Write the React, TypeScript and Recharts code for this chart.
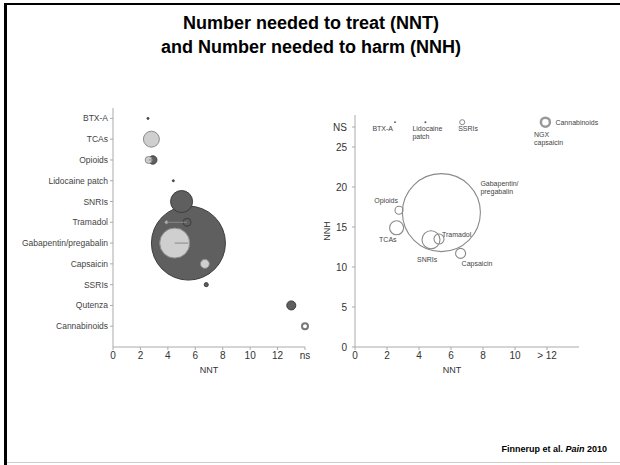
import { Scatter, ScatterChart, XAxis, YAxis } from "recharts"

// Left panel: combined NNT per drug class, bubble area ~ number of patients
const drugs = [
  "BTX-A",
  "TCAs",
  "Opioids",
  "Lidocaine patch",
  "SNRIs",
  "Tramadol",
  "Gabapentin/pregabalin",
  "Capsaicin",
  "SSRIs",
  "Qutenza",
  "Cannabinoids",
]
// dark bubbles (14 = ns)
const nntAll = [2.55, null, 2.9, 4.4, 5.0, 5.4, 5.5, null, 6.8, 13.0, 14]
const sizeAll = [3, 0, 55, 3, 380, 50, 4300, 0, 13, 64, 28]
// light bubbles
const nntSub = [null, 2.8, 2.6, null, null, 3.9, 4.5, 6.7, null, null, null]
const sizeSub = [0, 200, 38, 0, 0, 7, 710, 64, 0, 0, 0]

const leftTicks = [0, 2, 4, 6, 8, 10, 12, 14]
const leftTickLabels = ["0", "2", "4", "6", "8", "10", "12", "ns"]

// Right panel: NNT vs NNH
const harmNames = ["Opioids", "TCAs", "SNRIs", "Tramadol", "Gabapentin/pregabalin", "Capsaicin"]
const harmNnt = [2.75, 2.6, 4.75, 5.25, 5.4, 6.6]
const harmNnh = [17.1, 14.9, 13.4, 13.5, 16.8, 11.7]
const harmSize = [50, 154, 254, 79, 4780, 79]

// not significant NNH row
const nsNames = ["BTX-A", "Lidocaine patch", "SSRIs", "Cannabinoids", "NGX capsaicin"]
const nsNnt = [2.5, 4.4, 6.7, 11.9, 12]
const nsSize = [2, 3, 20, 64, 0]
const nsLevel = 28.1

const rightYTicks = [0, 5, 10, 15, 20, 25, 27.5]
const rightYLabels = ["0", "5", "10", "15", "20", "25", "NS"]
const rightXTicks = [0, 2, 4, 6, 8, 10, 12]
const rightXLabels = ["0", "2", "4", "6", "8", "10", "> 12"]

// label placement for the right panel (pixels relative to bubble centre)
const labelPlacement: Record<string, { dx: number; dy: number; anchor: "start" | "end"; lines: string[] }> = {
  Opioids: { dx: -1, dy: -7, anchor: "end", lines: ["Opioids"] },
  TCAs: { dx: 0, dy: 14, anchor: "end", lines: ["TCAs"] },
  SNRIs: { dx: -14, dy: 22, anchor: "start", lines: ["SNRIs"] },
  Tramadol: { dx: 3, dy: -2, anchor: "start", lines: ["Tramadol"] },
  "Gabapentin/pregabalin": { dx: 39, dy: -27, anchor: "start", lines: ["Gabapentin/", "pregabalin"] },
  Capsaicin: { dx: 1, dy: 13, anchor: "start", lines: ["Capsaicin"] },
  "BTX-A": { dx: -2, dy: 9, anchor: "end", lines: ["BTX-A"] },
  "Lidocaine patch": { dx: -13, dy: 9, anchor: "start", lines: ["Lidocaine", "patch"] },
  SSRIs: { dx: -4, dy: 9, anchor: "start", lines: ["SSRIs"] },
  Cannabinoids: { dx: 10, dy: 3, anchor: "start", lines: ["Cannabinoids"] },
  "NGX capsaicin": { dx: -13, dy: 15, anchor: "start", lines: ["NGX", "capsaicin"] },
}

// big bubbles first so the small ones stay visible on top
const allPoints = drugs
  .map((name, i) => ({ name, row: i, nnt: nntAll[i], size: sizeAll[i] }))
  .filter((p) => p.nnt !== null)
  .sort((a, b) => b.size - a.size)
const subPoints = drugs
  .map((name, i) => ({ name, row: i, nnt: nntSub[i], size: sizeSub[i] }))
  .filter((p) => p.nnt !== null)
// light estimate joined to the dark one on the same row
const links = drugs
  .map((name, i) => ({ name, row: i, from: nntSub[i], to: nntAll[i] }))
  .filter((l) => l.from !== null && l.to !== null)

const harmPoints = harmNames.map((name, i) => ({ name, nnt: harmNnt[i], nnh: harmNnh[i], size: harmSize[i] }))
const nsPoints = nsNames.map((name, i) => ({ name, nnt: nsNnt[i], nnh: nsLevel, size: nsSize[i] }))

const radius = (size: number) => Math.sqrt(size / Math.PI)

const axisColor = "#aaa"
const textColor = "#333"

const DarkBubble = (props: any) => {
  const { cx, cy, payload } = props
  const r = Math.max(radius(payload.size), 1)
  if (payload.nnt >= 14) {
    return <circle cx={cx} cy={cy} r={r} fill="#fff" stroke="#777" strokeWidth={2} />
  }
  return <circle cx={cx} cy={cy} r={r} fill="#5f5f5f" stroke="#3c3c3c" strokeWidth={1} />
}

const LightBubble = (props: any) => {
  const { cx, cy, payload } = props
  const r = Math.max(radius(payload.size), 1)
  return <circle cx={cx} cy={cy} r={r} fill="#cfcfcf" stroke="#8a8a8a" strokeWidth={1} />
}

const NoMark = () => <g />

const PointLabel = ({ cx, cy, name }: { cx: number; cy: number; name: string }) => {
  const p = labelPlacement[name]
  if (!p) return null
  return (
    <text x={cx + p.dx} y={cy + p.dy} textAnchor={p.anchor} fontSize={7} fill="#444">
      {p.lines.map((line, k) => (
        <tspan key={k} x={cx + p.dx} dy={k === 0 ? 0 : 8}>
          {line}
        </tspan>
      ))}
    </text>
  )
}

const HarmBubble = (props: any) => {
  const { cx, cy, payload } = props
  const r = radius(payload.size)
  return (
    <g>
      <circle cx={cx} cy={cy} r={r} fill="none" stroke="#8a8a8a" strokeWidth={1.1} />
      <PointLabel cx={cx} cy={cy} name={payload.name} />
    </g>
  )
}

const NsBubble = (props: any) => {
  const { cx, cy, payload } = props
  const r = radius(payload.size)
  let mark = null
  if (payload.size > 0 && payload.size < 5) mark = <circle cx={cx} cy={cy} r={Math.max(r, 0.9)} fill="#555" />
  else if (payload.size >= 40) mark = <circle cx={cx} cy={cy} r={r} fill="none" stroke="#999" strokeWidth={2.5} />
  else if (payload.size > 0) mark = <circle cx={cx} cy={cy} r={r} fill="none" stroke="#888" strokeWidth={1} />
  return (
    <g>
      {mark}
      <PointLabel cx={cx} cy={cy} name={payload.name} />
    </g>
  )
}

function LeftChart() {
  return (
    <ScatterChart width={320} height={380} margin={{ top: 108, right: 15, bottom: 13, left: 3 }}>
      <XAxis
        type="number"
        dataKey="nnt"
        domain={[0, 14]}
        ticks={leftTicks}
        tickFormatter={(v: number) => leftTickLabels[leftTicks.indexOf(v)]}
        interval={0}
        height={20}
        stroke={axisColor}
        tickSize={3}
        tick={{ fontSize: 10, fill: textColor }}
        label={{ value: "NNT", position: "bottom", offset: 0, fontSize: 9, fill: textColor }}
      />
      <YAxis
        type="number"
        dataKey="row"
        domain={[-0.5, 11]}
        reversed
        ticks={drugs.map((_, i) => i)}
        tickFormatter={(v: number) => drugs[v] ?? ""}
        interval={0}
        width={110}
        stroke={axisColor}
        tickSize={3}
        tick={{ fontSize: 8.5, fill: "#444" }}
      />
      <Scatter data={allPoints} shape={DarkBubble} isAnimationActive={false} />
      <Scatter data={subPoints} shape={LightBubble} isAnimationActive={false} />
      {links.map((l) => (
        <Scatter
          key={l.name}
          data={[
            { nnt: l.from, row: l.row },
            { nnt: l.to, row: l.row },
          ]}
          line={{ stroke: "#888", strokeWidth: 1 }}
          shape={NoMark}
          isAnimationActive={false}
        />
      ))}
    </ScatterChart>
  )
}

function RightChart() {
  return (
    <ScatterChart width={310} height={380} margin={{ top: 115, right: 41, bottom: 13, left: 15 }}>
      <XAxis
        type="number"
        dataKey="nnt"
        domain={[0, 14]}
        ticks={rightXTicks}
        tickFormatter={(v: number) => rightXLabels[rightXTicks.indexOf(v)]}
        interval={0}
        height={20}
        stroke={axisColor}
        tickSize={3}
        tick={{ fontSize: 10, fill: textColor }}
        label={{ value: "NNT", position: "bottom", offset: 0, dx: -15, fontSize: 9, fill: textColor }}
      />
      <YAxis
        type="number"
        dataKey="nnh"
        domain={[0, 29]}
        ticks={rightYTicks}
        tickFormatter={(v: number) => rightYLabels[rightYTicks.indexOf(v)]}
        interval={0}
        width={30}
        stroke={axisColor}
        tickSize={3}
        tickMargin={5}
        tick={{ fontSize: 10, fill: textColor }}
        label={{
          value: "NNH",
          angle: -90,
          position: "insideLeft",
          offset: 2,
          fontSize: 9,
          fill: textColor,
          style: { textAnchor: "middle" },
        }}
      />
      <Scatter data={harmPoints} shape={HarmBubble} isAnimationActive={false} />
      <Scatter data={nsPoints} shape={NsBubble} isAnimationActive={false} />
    </ScatterChart>
  )
}

export default function App() {
  return (
    <div
      style={{
        position: "absolute",
        left: 0,
        top: 0,
        width: 620,
        height: 465,
        background: "#fff",
        overflow: "hidden",
        fontFamily: '"Liberation Sans", Arial, sans-serif',
      }}
    >
      {/* slide frame */}
      <div style={{ position: "absolute", left: 4, top: 3, width: 3, height: 462, background: "#000" }} />
      <div style={{ position: "absolute", left: 4, top: 3, width: 616, height: 2, background: "#000" }} />
      <div style={{ position: "absolute", left: 7, top: 462, width: 613, height: 1, background: "#ccc" }} />

      <div
        style={{
          position: "absolute",
          left: 0,
          top: 11,
          width: 622,
          textAlign: "center",
          fontSize: 18,
          fontWeight: "bold",
          lineHeight: "24px",
          color: "#000",
        }}
      >
        Number needed to treat (NNT)
        <br />
        and Number needed to harm (NNH)
      </div>

      <div style={{ position: "absolute", left: 0, top: 0 }}>
        <LeftChart />
      </div>
      <div style={{ position: "absolute", left: 310, top: 0 }}>
        <RightChart />
      </div>

      <div
        style={{
          position: "absolute",
          right: 13,
          top: 443,
          fontSize: 9,
          fontWeight: "bold",
          lineHeight: "12px",
          color: "#000",
        }}
      >
        Finnerup et al. <i>Pain</i> 2010
      </div>
    </div>
  )
}
